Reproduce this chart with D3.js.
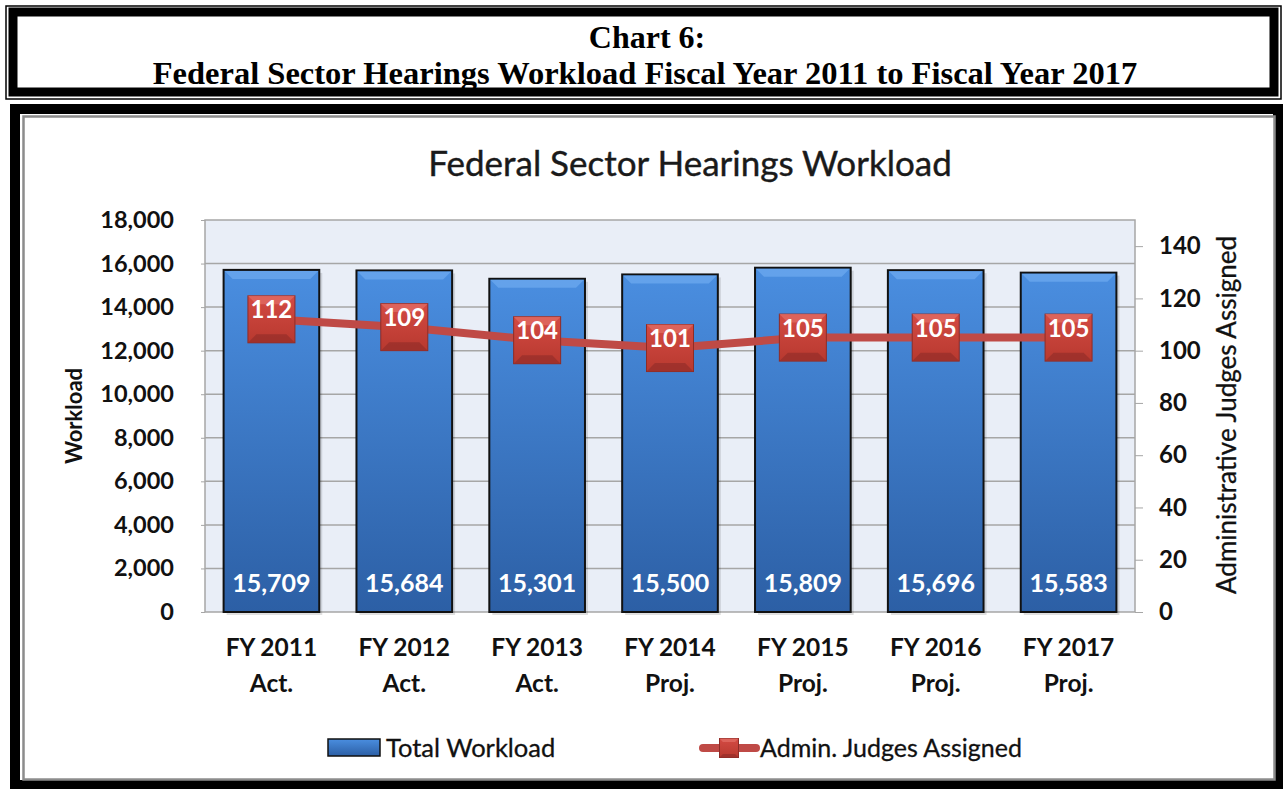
<!DOCTYPE html>
<html>
<head>
<meta charset="utf-8">
<script src="https://cdn.jsdelivr.net/npm/d3@7"></script>
<style>
  body { margin: 0; background: #fff; }
  svg { display: block; }
</style>
</head>
<body>
<svg id="chart" width="1283" height="789"></svg>
<script>
const fyLabels = ["FY 2011", "FY 2012", "FY 2013", "FY 2014", "FY 2015", "FY 2016", "FY 2017"];
const statusLabels = ["Act.", "Act.", "Act.", "Proj.", "Proj.", "Proj.", "Proj."];
const workload = [15709, 15684, 15301, 15500, 15809, 15696, 15583];
const judges = [112, 109, 104, 101, 105, 105, 105];
const leftTicks = [0, 2000, 4000, 6000, 8000, 10000, 12000, 14000, 16000, 18000];
const rightTicks = [0, 20, 40, 60, 80, 100, 120, 140];

const data = fyLabels.map((fy, i) => ({
  fy, status: statusLabels[i], workload: workload[i], judges: judges[i]
}));

const svg = d3.select("#chart");
const font = "Lato, 'Open Sans', sans-serif";

// ---- frames ----
// heading box
svg.append("rect").attr("x", 6).attr("y", 6).attr("width", 1275).attr("height", 93)
  .attr("fill", "none").attr("stroke", "#000").attr("stroke-width", 1.5);
svg.append("rect").attr("x", 13).attr("y", 12).attr("width", 1261).attr("height", 80)
  .attr("fill", "none").attr("stroke", "#000").attr("stroke-width", 9);
// chart box
svg.append("rect").attr("x", 15).attr("y", 109).attr("width", 1263).attr("height", 676)
  .attr("fill", "none").attr("stroke", "#000").attr("stroke-width", 10);
svg.append("rect").attr("x", 23.5).attr("y", 116.5).attr("width", 1251).attr("height", 663)
  .attr("fill", "#fff").attr("stroke", "#8c8c8c").attr("stroke-width", 2.5);

svg.append("text").attr("x", 647).attr("y", 48).attr("text-anchor", "middle")
  .style("font-family", "'Liberation Serif', 'Times New Roman', serif")
  .style("font-weight", "bold").style("font-size", "32px").text("Chart 6:");
svg.append("text").attr("x", 645).attr("y", 84).attr("text-anchor", "middle")
  .style("font-family", "'Liberation Serif', 'Times New Roman', serif")
  .style("font-weight", "bold").style("font-size", "32.5px")
  .text("Federal Sector Hearings Workload Fiscal Year 2011 to Fiscal Year 2017");

// ---- gradients ----
const defs = svg.append("defs");
const bg = defs.append("linearGradient").attr("id", "barGrad").attr("x1", 0).attr("y1", 0).attr("x2", 0).attr("y2", 1);
bg.append("stop").attr("offset", "0%").attr("stop-color", "#4a8ee0");
bg.append("stop").attr("offset", "100%").attr("stop-color", "#2c5fa5");
const rg = defs.append("linearGradient").attr("id", "mkGrad").attr("x1", 0).attr("y1", 0).attr("x2", 0).attr("y2", 1);
rg.append("stop").attr("offset", "0%").attr("stop-color", "#d34a43");
rg.append("stop").attr("offset", "100%").attr("stop-color", "#b8392f");

// ---- plot ----
const margin = { left: 205, right: 1135, top: 220, bottom: 612 };
const x = d3.scaleBand().domain(fyLabels).range([margin.left, margin.right]).paddingInner(0.28).paddingOuter(0.14);
const y = d3.scaleLinear().domain([0, 18000]).range([margin.bottom, margin.top]);
const y2 = d3.scaleLinear().domain([0, 150]).range([margin.bottom, margin.top]);

svg.append("text").attr("x", 690).attr("y", 176).attr("text-anchor", "middle")
  .style("font-family", font).style("font-size", "35px").style("fill", "#1a1a1a")
  .style("stroke", "#1a1a1a").style("stroke-width", 0.4)
  .text("Federal Sector Hearings Workload");

svg.append("rect").attr("x", margin.left).attr("y", margin.top)
  .attr("width", margin.right - margin.left).attr("height", margin.bottom - margin.top)
  .attr("fill", "#e9eef7").attr("stroke", "#a6a6a6").attr("stroke-width", 1.5);

svg.append("g").selectAll("line").data(leftTicks.slice(1, -1)).join("line")
  .attr("x1", margin.left).attr("x2", margin.right)
  .attr("y1", d => y(d)).attr("y2", d => y(d))
  .attr("stroke", "#a6a6a6").attr("stroke-width", 1.5);

// left axis
const yAxis = svg.append("g").attr("transform", `translate(${margin.left},0)`)
  .call(d3.axisLeft(y).tickValues(leftTicks).tickFormat(d3.format(",")).tickSize(4).tickPadding(27));
yAxis.select(".domain").remove();
yAxis.selectAll("line").attr("stroke", "#a6a6a6");
yAxis.selectAll("text").style("font-family", font).style("font-weight", "bold")
  .style("font-size", "23.5px").style("fill", "#111");

// right axis
const yAxis2 = svg.append("g").attr("transform", `translate(${margin.right},0)`)
  .call(d3.axisRight(y2).tickValues(rightTicks).tickSize(8).tickPadding(16));
yAxis2.select(".domain").remove();
yAxis2.selectAll("line").attr("stroke", "#a6a6a6");
yAxis2.selectAll("text").style("font-family", font).style("font-weight", "bold")
  .style("font-size", "24px").style("fill", "#111");

svg.append("text").attr("transform", "translate(82,416) rotate(-90)").attr("text-anchor", "middle")
  .style("font-family", font).style("font-weight", "bold").style("font-size", "22px").style("fill", "#111")
  .text("Workload");
svg.append("text").attr("transform", "translate(1236,415) rotate(-90)").attr("text-anchor", "middle")
  .style("font-family", font).style("font-size", "26px").style("fill", "#111")
  .style("stroke", "#111").style("stroke-width", 0.3)
  .text("Administrative Judges Assigned");

// bars
const bars = svg.append("g").selectAll("g").data(data).join("g");
bars.append("rect").attr("x", d => x(d.fy) + 3).attr("y", d => y(d.workload) + 3)
  .attr("width", x.bandwidth()).attr("height", d => y(0) - y(d.workload))
  .attr("fill", "#000").attr("opacity", 0.12);
bars.append("rect").attr("x", d => x(d.fy)).attr("y", d => y(d.workload))
  .attr("width", x.bandwidth()).attr("height", d => y(0) - y(d.workload))
  .attr("fill", "url(#barGrad)").attr("stroke", "#111").attr("stroke-width", 2);
bars.append("path").attr("d", d => {
  const x0 = x(d.fy) + 1, x1 = x(d.fy) + x.bandwidth() - 1, t = y(d.workload) + 1;
  return `M${x0},${t}L${x1},${t}L${x1 - 8},${t + 8}L${x0 + 8},${t + 8}Z`;
}).attr("fill", "#6aa8ee").attr("opacity", 0.8);
bars.append("text").attr("x", d => x(d.fy) + x.bandwidth() / 2).attr("y", 592)
  .attr("text-anchor", "middle").style("font-family", font).style("font-weight", "bold")
  .style("font-size", "25px").style("fill", "#fff")
  .text(d => d3.format(",")(d.workload));

// category labels
const cat = svg.append("g").selectAll("text").data(data).join("text")
  .attr("x", d => x(d.fy) + x.bandwidth() / 2).attr("text-anchor", "middle")
  .style("font-family", font).style("font-weight", "bold").style("font-size", "24.5px").style("fill", "#111");
cat.append("tspan").attr("x", d => x(d.fy) + x.bandwidth() / 2).attr("y", 656).text(d => d.fy);
cat.append("tspan").attr("x", d => x(d.fy) + x.bandwidth() / 2).attr("y", 692).text(d => d.status);

// line
const cx = d => x(d.fy) + x.bandwidth() / 2;
svg.append("path").datum(data)
  .attr("d", d3.line().x(cx).y(d => y2(d.judges)))
  .attr("fill", "none").attr("stroke", "#bf4a46").attr("stroke-width", 8);

function marker(g, mx, my, s) {
  const h = s / 2, b = s * 0.18;
  g.append("rect").attr("x", mx - h).attr("y", my - h).attr("width", s).attr("height", s)
    .attr("fill", "url(#mkGrad)").attr("stroke", "#8e2c27").attr("stroke-width", 1);
  g.append("path").attr("d", `M${mx - h},${my - h}L${mx + h},${my - h}L${mx + h - b},${my - h + b}L${mx - h + b},${my - h + b}Z`)
    .attr("fill", "#e06a62").attr("opacity", 0.8);
  g.append("path").attr("d", `M${mx - h},${my + h}L${mx + h},${my + h}L${mx + h - b},${my + h - b}L${mx - h + b},${my + h - b}Z`)
    .attr("fill", "#9a302a").attr("opacity", 0.8);
}

const mk = svg.append("g").selectAll("g").data(data).join("g");
mk.each(function(d) { marker(d3.select(this), cx(d), y2(d.judges), 47); });
mk.append("text").attr("x", cx).attr("y", d => y2(d.judges) - 1)
  .attr("text-anchor", "middle").style("font-family", font).style("font-weight", "bold")
  .style("font-size", "24px").style("fill", "#fff").text(d => d.judges);

// legend
const lg = svg.append("g");
lg.append("rect").attr("x", 328).attr("y", 739).attr("width", 52).attr("height", 17)
  .attr("fill", "url(#barGrad)").attr("stroke", "#111").attr("stroke-width", 1.5);
lg.append("text").attr("x", 386).attr("y", 757).style("font-family", font)
  .style("font-size", "25.5px").style("fill", "#111").style("stroke", "#111").style("stroke-width", 0.3)
  .text("Total Workload");
lg.append("line").attr("x1", 703).attr("x2", 756).attr("y1", 748).attr("y2", 748)
  .attr("stroke", "#bf4a46").attr("stroke-width", 8).attr("stroke-linecap", "round");
marker(lg, 729, 748, 19);
lg.append("text").attr("x", 760).attr("y", 757).style("font-family", font)
  .style("font-size", "25px").style("fill", "#111").style("stroke", "#111").style("stroke-width", 0.3)
  .text("Admin. Judges Assigned");
</script>
</body>
</html>
